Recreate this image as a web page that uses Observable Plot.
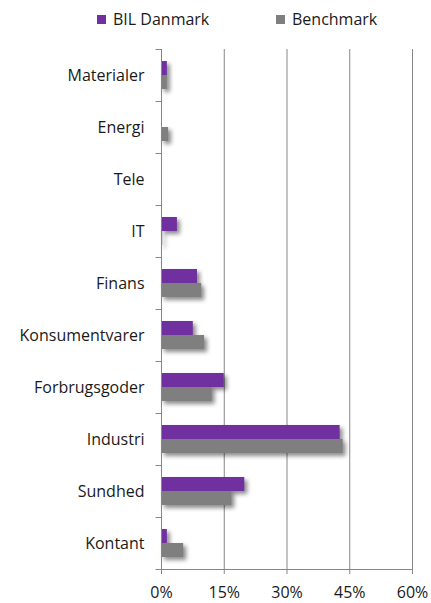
<!DOCTYPE html>
<html>
<head>
<meta charset="utf-8">
<script src="https://cdn.jsdelivr.net/npm/d3@7"></script>
<script src="https://cdn.jsdelivr.net/npm/@observablehq/plot@0.6"></script>
<style>
  html, body { margin: 0; padding: 0; background: #fff; }
  body { width: 431px; height: 603px; overflow: hidden; font-family: "Open Sans", Lato, sans-serif; color: #1a1a1a; }
  #legend { position: relative; height: 40px; font-size: 16px; }
  .item { position: absolute; top: 8px; display: flex; align-items: center; }
  .sw { width: 9px; height: 9px; margin-right: 7px; }
  g[aria-label="bar"] { filter: drop-shadow(3px 3px 2px rgba(0,0,0,0.45)); }
</style>
</head>
<body>
<div id="legend"></div>
<div id="chart"></div>
<script>
const categories = ["Materialer","Energi","Tele","IT","Finans","Konsumentvarer","Forbrugsgoder","Industri","Sundhed","Kontant"];
const series = ["BIL Danmark","Benchmark"];
const bilDanmark = [1.4, 0, 0, 3.8, 8.6, 7.6, 15.0, 42.7, 19.9, 1.4];
const benchmark = [1.4, 1.7, 0, 0.3, 9.6, 10.3, 12.1, 43.4, 16.8, 5.3];
const xTicks = [0, 15, 30, 45, 60];
const colors = ["#7030A0", "#7F7F7F"];

const rows = [];
categories.forEach((c, i) => {
  rows.push({category: c, series: series[0], value: bilDanmark[i]});
  rows.push({category: c, series: series[1], value: benchmark[i]});
});

// legend
const legendEl = document.getElementById("legend");
const legendLeft = [97, 276];
series.forEach((s, i) => {
  const it = document.createElement("div");
  it.className = "item";
  it.style.left = legendLeft[i] + "px";
  it.innerHTML = `<span class="sw" style="background:${colors[i]}"></span><span>${s}</span>`;
  legendEl.appendChild(it);
});

const axisColor = "#868686";
const chart = Plot.plot({
  width: 431,
  height: 563,
  marginLeft: 161,
  marginRight: 19,
  marginTop: 5,
  marginBottom: 31,
  style: {fontFamily: "'Open Sans', Lato, sans-serif", fontSize: "16px", color: "#1a1a1a", background: "#fff"},
  x: {domain: [0, 60], ticks: xTicks, tickFormat: d => d + "%", tickSize: 5, tickPadding: 12, label: null},
  fy: {domain: categories, padding: 0, label: null, tickSize: 0, tickPadding: 17},
  y: {domain: series, paddingInner: 0, paddingOuter: 0.75, axis: null},
  color: {domain: series, range: colors},
  marks: [
    Plot.gridX(xTicks.slice(1), {stroke: axisColor, strokeOpacity: 1, strokeWidth: 1}),
    Plot.barX(rows, {x: "value", y: "series", fy: "category", fill: "series"})
  ]
});
document.getElementById("chart").appendChild(chart);

// axis lines and category boundary ticks
const xs = chart.scale("x");
const fys = chart.scale("fy");
const sel = d3.select(chart);
const ag = sel.append("g").attr("stroke", axisColor).attr("stroke-width", 1);
const x0 = Math.round(xs.apply(0)) + 0.5;
const yTop = fys.apply(categories[0]);
const yBottom = fys.apply(categories[categories.length - 1]) + fys.bandwidth;
ag.append("line").attr("x1", x0).attr("x2", x0).attr("y1", yTop).attr("y2", yBottom);
ag.append("line").attr("x1", x0).attr("x2", xs.apply(60)).attr("y1", Math.round(yBottom) + 0.5).attr("y2", Math.round(yBottom) + 0.5);
const bounds = categories.map(c => fys.apply(c)).concat([yBottom]);
bounds.forEach(b => {
  const yy = Math.round(b) + 0.5;
  ag.append("line").attr("x1", x0 - 6).attr("x2", x0).attr("y1", yy).attr("y2", yy);
});
sel.selectAll('g[aria-label="x-axis tick"] path').attr("stroke", axisColor);
</script>
</body>
</html>
